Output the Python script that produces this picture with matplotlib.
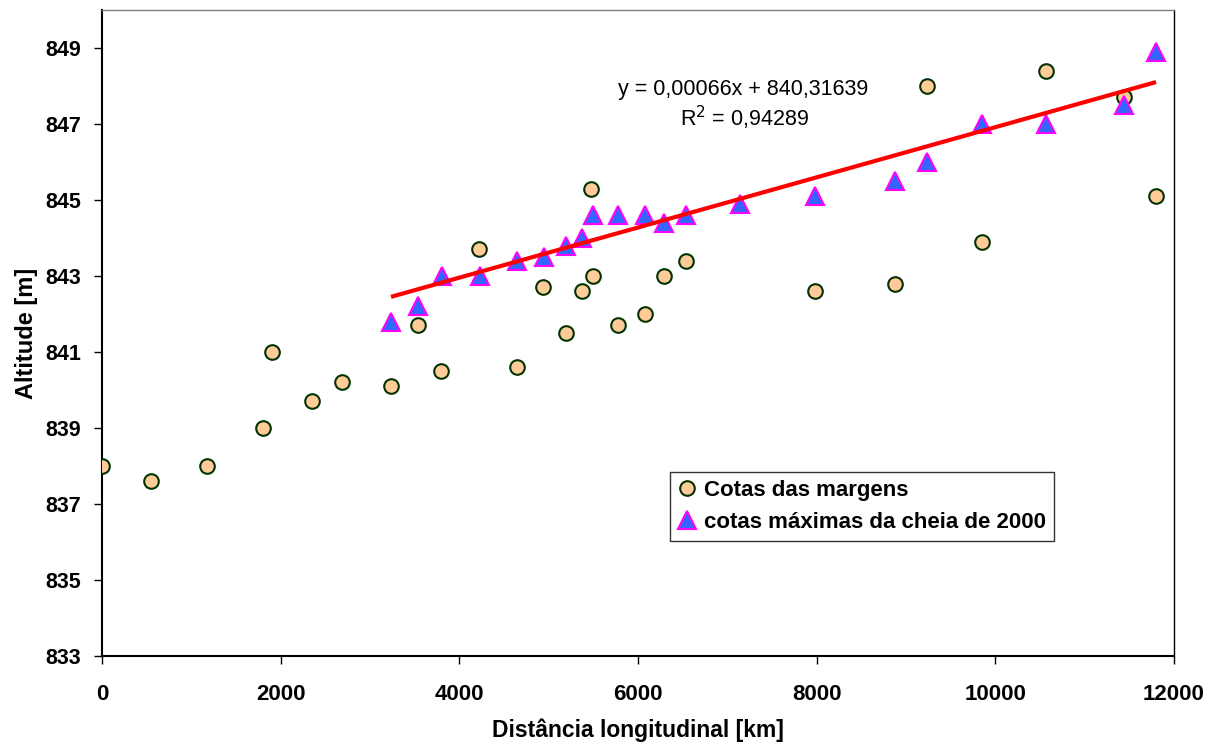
import matplotlib
matplotlib.use("Agg")
import matplotlib.pyplot as plt
import numpy as np

plt.rcParams['font.family'] = ['Liberation Sans', 'DejaVu Sans']

# Cotas das margens
x_margens = [0, 548, 1175, 1802, 1903, 2351, 2687, 3235, 3537, 3795, 4220, 4646,
             4937, 5194, 5373, 5474, 5496, 5776, 6078, 6291, 6537, 7981, 8877,
             9235, 9851, 10567, 11440, 11799]
y_margens = [838.0, 837.6, 838.0, 839.0, 841.0, 839.7, 840.2, 840.1, 841.7, 840.5,
             843.7, 840.6, 842.7, 841.5, 842.6, 845.3, 843.0, 841.7, 842.0, 843.0,
             843.4, 842.6, 842.8, 848.0, 843.9, 848.4, 847.7, 845.1]

# cotas máximas da cheia de 2000
x_cheia = [3235, 3537, 3806, 4231, 4646, 4948, 5194, 5373, 5496, 5776, 6078, 6291,
           6537, 7139, 7981, 8877, 9235, 9851, 10567, 11440, 11799]
y_cheia = [841.8, 842.2, 843.0, 843.0, 843.4, 843.5, 843.8, 844.0, 844.6, 844.6,
           844.6, 844.4, 844.6, 844.9, 845.1, 845.5, 846.0, 847.0, 847.0, 847.5, 848.9]

slope = 0.00066
intercept = 840.31639

xticks = [0, 2000, 4000, 6000, 8000, 10000, 12000]
yticks = [833, 835, 837, 839, 841, 843, 845, 847, 849]

fig = plt.figure(figsize=(12.19, 7.47), dpi=100)
ax = fig.add_axes([102/1219, 1-656/747, (1174-102)/1219, (656-10)/747])

ax.plot(x_margens, y_margens, linestyle='none', marker='o', markersize=10.5,
        markerfacecolor='#FFCC99', markeredgecolor='#003300', markeredgewidth=1.5,
        label='Cotas das margens', zorder=3)
ax.plot(x_cheia, y_cheia, linestyle='none', marker='^', markersize=13,
        markerfacecolor='#3366FF', markeredgecolor='#FF00FF', markeredgewidth=1.5,
        label='cotas máximas da cheia de 2000', zorder=4)

xt = np.array([min(x_cheia), max(x_cheia)])
ax.plot(xt, slope*xt + intercept, color='#FF0000', linewidth=3, zorder=5,
        solid_capstyle='butt')

ax.set_xlim(0, 12000)
ax.set_ylim(833, 850)
ax.set_xticks(xticks)
ax.set_yticks(yticks)
ax.set_xticklabels([str(v) for v in xticks], fontsize=16, fontweight='bold')
ax.set_yticklabels([str(v) for v in yticks], fontsize=15.5, fontweight='bold')
ax.tick_params(direction='out', length=6, width=1)
ax.tick_params(axis='x', pad=14)
ax.tick_params(axis='y', pad=9)
for s in ['left', 'bottom']:
    ax.spines[s].set_color('black')
    ax.spines[s].set_linewidth(1.5)
ax.spines['top'].set_color('#808080')
ax.spines['top'].set_linewidth(1.0)
ax.spines['right'].set_color('black')
ax.spines['right'].set_linewidth(1.0)

ax.set_xlabel('Distância longitudinal [km]', fontsize=16.5, fontweight='bold', labelpad=10)
ax.set_ylabel('Altitude [m]', fontsize=17, fontweight='bold', labelpad=5)

fig.text(743/1219, 1-89/747, 'y = 0,00066x + 840,31639', ha='center', va='center', fontsize=15.5)
fig.text(745/1219, 1-118/747, 'R$^2$ = 0,94289', ha='center', va='center', fontsize=15.5)

leg = ax.legend(loc='upper left', bbox_to_anchor=(670/1219, 1-472/747),
                bbox_transform=fig.transFigure, prop={'weight': 'bold', 'size': 16},
                frameon=True, fancybox=False, edgecolor='black', handlelength=0.8,
                handletextpad=0.4, borderpad=0.35, labelspacing=0.5, borderaxespad=0)
leg.get_frame().set_linewidth(1.0)

fig.savefig('out.png', dpi=100)
